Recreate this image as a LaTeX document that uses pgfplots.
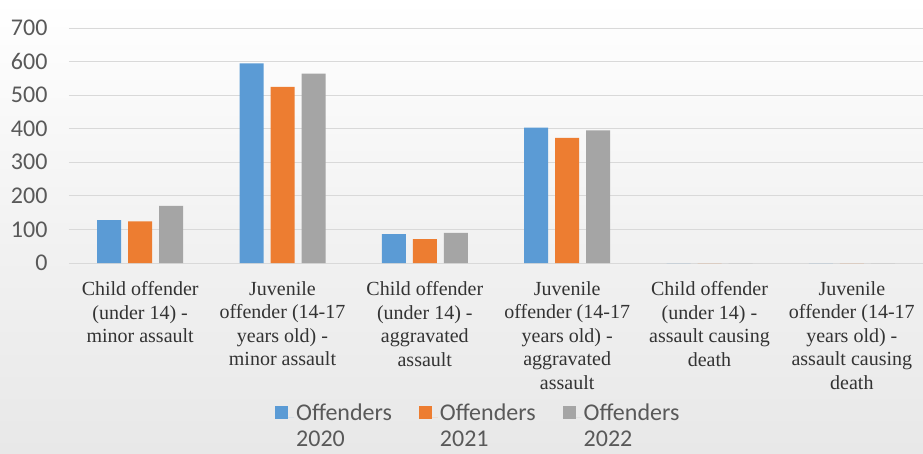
\documentclass[border=0pt]{standalone}
\usepackage{pgfplots}
\pgfplotsset{compat=1.18}
\usepackage{fontspec}
\setmainfont{Liberation Serif}
\newfontfamily\calibri{Carlito}
\definecolor{cblue}{HTML}{5B9BD5}
\definecolor{corange}{HTML}{ED7D31}
\definecolor{cgray}{HTML}{A5A5A5}
\definecolor{txtgray}{HTML}{595959}
\definecolor{gridc}{HTML}{D9D9D9}
\begin{document}
\begin{tikzpicture}
\shade[top color=white, bottom color=black!9, middle color=black!5] (-69pt,-190pt) rectangle (854pt,263pt);
\useasboundingbox (-69pt,-190pt) rectangle (854pt,263pt);
\begin{axis}[
  at={(0pt,0pt)}, anchor=south west,
  scale only axis,
  width=854pt, height=235pt,
  ymin=0, ymax=700,
  xmin=-0.5, xmax=5.5,
  ytick={0,100,...,700},
  xtick={0,1,2,3,4,5},
  xticklabels={
    {Child offender\\(under 14) -\\minor assault},
    {Juvenile\\offender (14-17\\years old) -\\minor assault},
    {Child offender\\(under 14) -\\aggravated\\assault},
    {Juvenile\\offender (14-17\\years old) -\\aggravated\\assault},
    {Child offender\\(under 14) -\\assault causing\\death},
    {Juvenile\\offender (14-17\\years old) -\\assault causing\\death}},
  xticklabel style={align=center, font=\fontsize{20}{23.5}\selectfont, text=black!80, anchor=north, yshift=-15pt},
  yticklabel style={font=\calibri\fontsize{24}{28}\selectfont, text=txtgray, xshift=-18pt},
  /pgf/number format/assume math mode=true,
  major tick length=0pt,
  ymajorgrids,
  grid style={gridc, line width=1pt},
  axis line style={draw=none},
  axis x line*=bottom,
  axis y line*=left,
  ybar=7pt, bar width=24pt,
  legend columns=3,
  legend style={draw=none, fill=none, font=\calibri\fontsize{24}{26.5}\selectfont, text=txtgray,
    at={(0.2377,-0.58)}, anchor=north west,
    cells={align=left},
    /tikz/every even column/.append style={column sep=25pt}},
  legend image code/.code={\path (0pt,8pt) -- (19pt,8pt); \fill[#1] (0pt,7pt) rectangle (13pt,20pt);},
  clip=false,
]
\addplot[fill=cblue, draw=none] coordinates {(0,128) (1,595) (2,86) (3,403) (4,0) (5,0)};
\addplot[fill=corange, draw=none] coordinates {(0,124) (1,525) (2,71) (3,373) (4,0) (5,0)};
\addplot[fill=cgray, draw=none] coordinates {(0,170) (1,564) (2,90) (3,395) (4,0) (5,0)};
\legend{Offenders\\2020, Offenders\\2021, Offenders\\2022}
\end{axis}
\end{tikzpicture}
\end{document}
